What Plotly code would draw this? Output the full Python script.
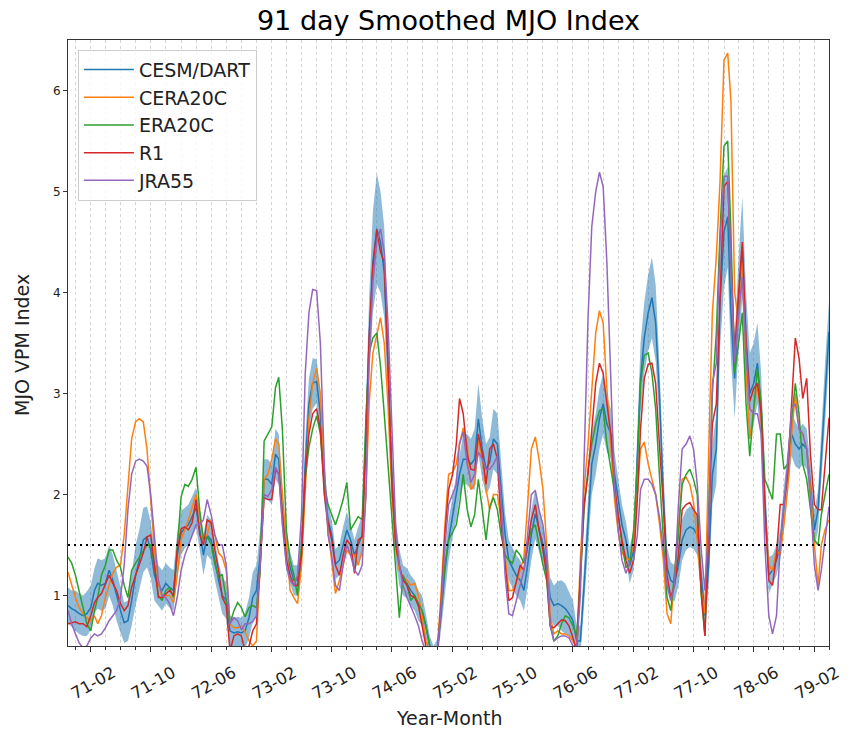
import pandas as pd
import plotly.graph_objects as go

# Half-monthly sample dates (1st and 16th of each month), 1970-11-01 .. 1979-04-01
month_starts = pd.date_range("1970-11-01", "1979-04-01", freq="MS")
dates = []
for i, d in enumerate(month_starts):
    dates.append(d)
    if i < len(month_starts) - 1:
        dates.append(d + pd.Timedelta(days=15))

series_names = ["CESM/DART", "CERA20C", "ERA20C", "R1", "JRA55"]

cesm_dart = [
    0.9, 0.87, 0.85, 0.82, 0.8, 0.82, 0.88, 1.05, 1.12, 1.1, 1.12, 1.25, 1.15, 1.0, 0.85, 0.73, 0.75, 0.95, 1.2, 1.35,
    1.55, 1.58, 1.45, 1.2, 1.1, 1.05, 1.12, 1.08, 1.05, 1.4, 1.62, 1.67, 1.7, 1.78, 1.87,
    1.65, 1.4, 1.6, 1.55, 1.35, 1.15, 1.0, 0.95, 0.65, 0.63, 0.64, 0.63, 0.65, 0.78, 0.98, 1.05, 1.4, 2.15, 2.15, 2.1,
    2.4, 2.35, 1.8, 1.42, 1.28, 1.15, 1.15, 1.45, 2.3, 2.9, 3.1, 3.12, 2.8, 2.1, 1.75, 1.6,
    1.31, 1.35, 1.5, 1.65, 1.55, 1.4, 1.5, 1.6, 2.6, 3.55, 4.3, 4.63, 4.5, 4.2, 3.3, 2.2, 1.55, 1.28, 1.15, 1.12,
    1.05, 1.0, 0.9, 0.85, 0.7, 0.5, 0.4, 0.45, 0.8, 1.25, 1.55, 1.78,
    1.97, 2.2, 2.35, 2.35, 2.3, 2.35, 2.75, 2.45, 2.25, 2.32, 2.55, 2.5, 2.05, 1.6, 1.35, 1.28, 1.2, 1.15, 1.05, 1.3,
    1.6, 1.81, 1.65, 1.5, 1.3, 0.98, 0.9, 0.92, 0.9, 0.87, 0.82, 0.75,
    0.55, 0.55, 1.1, 1.75, 2.3, 2.5, 2.75, 2.9, 2.7, 2.6, 2.2, 1.95, 1.7, 1.55, 1.3, 1.45, 2.3, 3.15, 3.55, 3.8,
    3.95, 3.7, 3.0, 2.0, 1.28, 1.15, 1.12, 1.3, 1.55, 1.65, 1.68, 1.66, 1.6, 1.2,
    0.8, 1.3, 2.2, 2.45, 3.9, 4.6, 4.75, 3.8, 3.15, 3.9, 4.45, 3.55, 3.0, 3.1, 3.3, 2.85, 1.95, 1.2, 1.25, 1.35,
    1.5, 1.88, 2.25, 2.6, 2.5, 2.45, 2.5, 2.45, 2.1, 1.65, 1.85, 2.4, 3.0, 3.61,
]

cesm_spread = [
    0.18, 0.18, 0.2, 0.2, 0.2, 0.22, 0.22, 0.22, 0.25, 0.25, 0.25, 0.25, 0.25, 0.25, 0.22, 0.2, 0.2, 0.25, 0.3, 0.3,
    0.32, 0.3, 0.28, 0.25, 0.2, 0.2, 0.2, 0.2, 0.2, 0.22, 0.22, 0.2, 0.2, 0.2, 0.2,
    0.2, 0.2, 0.2, 0.2, 0.2, 0.18, 0.18, 0.18, 0.15, 0.15, 0.15, 0.15, 0.18, 0.2, 0.25, 0.25, 0.25, 0.2, 0.2, 0.2,
    0.25, 0.25, 0.2, 0.18, 0.15, 0.15, 0.15, 0.2, 0.25, 0.25, 0.25, 0.22, 0.2, 0.18, 0.15, 0.15,
    0.15, 0.15, 0.18, 0.18, 0.15, 0.15, 0.18, 0.2, 0.3, 0.4, 0.5, 0.55, 0.5, 0.45, 0.35, 0.25, 0.2, 0.18, 0.15, 0.15,
    0.15, 0.15, 0.15, 0.15, 0.12, 0.1, 0.1, 0.12, 0.15, 0.2, 0.2, 0.2,
    0.22, 0.22, 0.25, 0.25, 0.25, 0.3, 0.35, 0.3, 0.25, 0.25, 0.3, 0.3, 0.25, 0.22, 0.2, 0.2, 0.2, 0.2, 0.2, 0.22,
    0.25, 0.25, 0.22, 0.2, 0.18, 0.2, 0.2, 0.22, 0.25, 0.25, 0.22, 0.2,
    0.15, 0.15, 0.2, 0.25, 0.3, 0.3, 0.3, 0.3, 0.28, 0.25, 0.22, 0.2, 0.2, 0.18, 0.18, 0.2, 0.3, 0.35, 0.35, 0.38,
    0.4, 0.38, 0.3, 0.25, 0.2, 0.18, 0.18, 0.2, 0.2, 0.2, 0.2, 0.2, 0.2, 0.18,
    0.15, 0.2, 0.3, 0.35, 0.45, 0.55, 0.5, 0.45, 0.4, 0.45, 0.5, 0.45, 0.4, 0.4, 0.4, 0.35, 0.25, 0.18, 0.15, 0.15,
    0.15, 0.2, 0.2, 0.22, 0.22, 0.2, 0.2, 0.2, 0.2, 0.18, 0.2, 0.25, 0.3, 0.3,
]

cera20c = [
    1.23, 1.1, 0.98, 0.88, 0.82, 0.78, 0.75, 0.8, 0.72, 0.8, 0.98, 1.1, 1.22, 1.28, 1.3, 1.6, 2.05, 2.55, 2.72, 2.75,
    2.72, 2.45, 1.95, 1.45, 1.12, 0.98, 1.0, 1.0, 0.93, 1.2, 1.55, 1.65, 1.75, 1.87, 2.0,
    1.78, 1.55, 1.6, 1.75, 1.6, 1.42, 1.38, 1.25, 0.72, 0.68, 0.68, 0.7, 0.64, 0.55, 0.5, 0.55, 1.3, 2.15, 2.2, 2.35,
    2.55, 2.5, 2.0, 1.5, 1.05, 0.98, 0.92, 1.3, 2.1, 2.75, 3.1, 3.25, 3.0, 2.2, 1.65, 1.35,
    1.02, 1.15, 1.3, 1.45, 1.4, 1.4, 1.3, 1.45, 2.0, 2.9, 3.4, 3.6, 3.75, 3.5, 2.9, 2.0, 1.5, 1.25, 1.18, 1.15,
    1.1, 1.12, 1.0, 0.8, 0.55, 0.45, 0.4, 0.45, 1.0, 1.7, 2.2, 2.22,
    2.3, 2.5, 2.66, 2.5, 2.05, 2.1, 2.55, 2.35, 2.05, 1.85, 2.0, 2.0, 1.75, 1.4, 1.05, 1.05, 1.12, 1.25, 1.38, 1.9,
    2.45, 2.57, 2.35, 2.05, 1.5, 0.8, 0.62, 0.65, 0.62, 0.62, 0.6, 0.55,
    0.48, 1.35, 2.05, 2.5, 3.0, 3.6, 3.82, 3.7, 3.05, 2.45, 1.95, 1.62, 1.42, 1.38, 1.35, 1.5, 2.0, 2.45, 2.52, 2.3,
    2.15, 2.0, 1.72, 1.35, 0.82, 0.72, 1.2, 1.7, 2.15, 2.17, 2.1, 1.92, 1.55, 1.05,
    0.82, 2.4, 3.8, 4.35, 5.1, 6.3, 6.37, 5.9, 4.0, 3.7, 4.3, 3.2, 2.55, 2.85, 3.1, 2.75, 1.8, 1.3, 1.25, 1.45,
    1.4, 1.7, 2.05, 2.6, 3.0, 2.65, 2.6, 2.45, 2.05, 1.5, 1.1, 1.5, 1.65, 1.75,
]

era20c = [
    1.38, 1.32, 1.2, 1.05, 0.88, 0.72, 0.65, 0.85, 0.98, 1.2, 1.3, 1.45, 1.45, 1.35, 1.28, 1.1, 0.98, 1.25, 1.32, 1.38,
    1.45, 1.5, 1.5, 1.3, 1.0, 0.95, 1.05, 1.08, 0.98, 1.5, 1.98, 2.1, 2.08, 2.15, 2.27,
    1.84, 1.55, 1.58, 1.51, 1.31, 1.18, 1.21, 0.98, 0.72, 0.85, 0.93, 0.88, 0.79, 0.88, 0.9, 0.88, 1.25, 2.53, 2.6, 2.67,
    3.06, 3.16, 2.63, 1.64, 1.35, 1.21, 1.0, 1.5, 2.17, 2.47, 2.65, 2.78, 2.6, 2.1, 1.9, 1.8,
    1.7, 1.82, 1.95, 2.12, 1.65, 1.72, 1.78, 1.75, 2.75, 3.4, 3.55, 3.6, 3.27, 2.8, 2.3, 1.8, 1.35, 0.78, 1.2, 1.1,
    0.95, 1.0, 0.92, 0.85, 0.7, 0.5, 0.42, 0.45, 0.85, 1.3, 1.55, 1.62,
    1.7, 1.9, 2.2, 1.85, 1.68, 1.8, 2.15, 1.85, 1.55, 1.88, 1.97, 1.85, 1.6, 1.4, 1.35, 1.32, 1.45, 1.4, 1.32, 1.5,
    1.65, 1.7, 1.5, 1.3, 1.15, 0.72, 0.55, 0.6, 0.72, 0.8, 0.78, 0.7,
    0.6, 1.15, 1.85, 2.25, 2.5, 2.7, 2.83, 2.85, 2.5, 2.25, 2.05, 1.8, 1.5, 1.28, 1.3, 1.65, 2.3, 3.1, 3.38, 3.4,
    3.2, 2.85, 2.2, 1.55, 0.98, 0.85, 1.25, 1.6, 2.1, 2.2, 2.25, 2.15, 2.0, 1.0,
    0.6, 1.7, 3.0, 3.6, 4.6, 5.45, 5.5, 4.6, 3.2, 3.5, 3.8, 2.9, 2.38, 2.85, 3.25, 2.9, 2.15, 2.05, 1.95, 2.6,
    2.6, 2.25, 2.3, 2.75, 3.1, 2.8, 2.3, 2.15, 1.85, 1.55, 1.5, 1.8, 2.0, 2.2,
]

r1 = [
    0.72, 0.73, 0.74, 0.72, 0.72, 0.69, 0.8, 0.93, 0.98, 1.02, 1.12, 1.2, 1.12, 1.05, 0.92, 0.85, 0.9, 1.08, 1.2, 1.3,
    1.42, 1.58, 1.6, 1.3, 0.98, 0.98, 1.02, 1.05, 1.0, 1.45, 1.66, 1.68, 1.65, 1.72, 1.95,
    1.6, 1.5, 1.75, 1.72, 1.45, 1.25, 0.98, 0.9, 0.45, 0.6, 0.62, 0.6, 0.45, 0.5, 0.65, 0.72, 1.3, 1.97, 1.95, 1.95,
    2.25, 2.2, 1.8, 1.35, 1.2, 1.1, 1.1, 1.4, 2.2, 2.6, 2.8, 2.85, 2.65, 2.0, 1.72, 1.55,
    1.3, 1.2, 1.4, 1.55, 1.5, 1.22, 1.55, 1.58, 2.5, 3.55, 4.25, 4.62, 4.4, 4.3, 3.3, 2.1, 1.5, 1.3, 1.15, 1.1,
    1.0, 0.98, 0.9, 0.7, 0.5, 0.4, 0.4, 0.4, 0.9, 1.6, 2.05, 2.2,
    2.5, 2.95, 2.8, 2.4, 2.25, 2.24, 2.6, 2.4, 2.1, 2.45, 2.5, 2.35, 1.7, 1.3, 0.95, 0.98, 1.15, 1.3, 1.25, 1.5,
    1.75, 1.9, 1.65, 1.45, 1.2, 0.7, 0.68, 0.72, 0.76, 0.75, 0.7, 0.58,
    0.45, 1.2, 1.9, 2.2, 2.65, 3.1, 3.3, 3.2, 2.9, 2.6, 2.1, 1.78, 1.55, 1.35, 1.22, 1.35, 1.95, 2.65, 3.15, 3.29,
    3.3, 3.1, 2.5, 1.9, 1.2, 0.98, 1.1, 1.4, 1.85, 1.9, 1.92, 1.85, 1.8, 1.05,
    0.6, 1.6, 2.7, 2.9, 3.9, 5.05, 5.1, 4.3, 3.4, 4.0, 4.5, 3.5, 2.92, 3.05, 3.1, 2.8, 1.9, 1.15, 1.1, 1.4,
    1.9, 1.9, 2.2, 2.9, 3.55, 3.35, 2.95, 3.15, 2.4, 1.9, 1.85, 1.85, 2.3, 2.76,
]

jra55 = [
    0.85, 0.72, 0.62, 0.53, 0.48, 0.5, 0.58, 0.62, 0.6, 0.62, 0.68, 0.75, 0.8, 0.85, 0.98, 1.3, 1.85, 2.2, 2.33, 2.35,
    2.33, 2.28, 2.0, 1.57, 1.15, 1.0, 0.98, 0.92, 0.8, 0.98, 1.25, 1.4, 1.5, 1.6, 1.7,
    1.7, 1.75, 1.95, 1.8, 1.6, 1.5, 1.5, 1.3, 0.72, 0.78, 0.75, 0.66, 0.72, 0.72, 0.74, 0.8, 1.3, 2.0, 1.98, 2.05,
    2.27, 2.2, 1.7, 1.3, 1.15, 1.1, 1.2, 1.8, 3.2, 3.8, 4.03, 4.02, 3.5, 2.3, 1.6, 1.4,
    1.1, 1.05, 1.3, 1.5, 1.4, 1.25, 1.2, 1.3, 2.0, 3.3, 4.1, 4.5, 4.63, 4.4, 3.7, 2.6, 1.7, 1.3, 1.1, 0.98,
    0.9, 0.8, 0.7, 0.55, 0.45, 0.4, 0.4, 0.42, 0.85, 1.5, 1.9, 2.0,
    2.1, 2.5, 2.62, 2.3, 2.12, 2.2, 2.42, 2.35, 2.25, 2.25, 2.3, 2.38, 1.95, 1.2, 0.82, 0.8, 0.95, 1.1, 1.25, 1.6,
    2.0, 2.04, 1.85, 1.7, 1.4, 0.7, 0.55, 0.58, 0.6, 0.6, 0.58, 0.5,
    0.48, 1.0, 2.3, 3.75, 4.65, 5.0, 5.19, 5.05, 4.3, 3.2, 2.05, 1.65, 1.35, 1.22, 1.32, 1.35, 1.6, 2.05, 2.15, 2.15,
    2.1, 2.0, 1.78, 1.45, 1.1, 0.95, 1.1, 1.9, 2.45, 2.5, 2.58, 2.45, 2.1, 1.45,
    1.05, 1.7, 3.1, 3.3, 4.5, 5.15, 5.15, 4.3, 3.3, 3.8, 4.15, 3.4, 2.85, 2.8, 2.8, 2.6, 1.5, 0.8, 0.62, 0.8,
    1.5, 1.9, 2.3, 2.85, 2.9, 2.65, 2.6, 2.45, 1.95, 1.3, 1.05, 1.25, 1.55, 1.88,
]

threshold = 1.5
y_ticks = [1, 2, 3, 4, 5, 6]
grid_dates = pd.date_range("1970-12-01", "1979-04-01", freq="2MS")

colors = ["#1f77b4", "#ff7f0e", "#2ca02c", "#d62728", "#9467bd"]
FONT = "DejaVu Sans"

upper = [m + s for m, s in zip(cesm_dart, cesm_spread)]
lower = [m - s for m, s in zip(cesm_dart, cesm_spread)]

fig = go.Figure()

# CESM/DART ensemble spread band
fig.add_trace(go.Scatter(x=dates, y=upper, mode="lines", line=dict(width=0, color=colors[0]),
                         showlegend=False, hoverinfo="skip"))
fig.add_trace(go.Scatter(x=dates, y=lower, mode="lines", line=dict(width=0, color=colors[0]),
                         fill="tonexty", fillcolor="rgba(31,119,180,0.5)",
                         showlegend=False, hoverinfo="skip"))

for name, vals, col in zip(series_names, [cesm_dart, cera20c, era20c, r1, jra55], colors):
    fig.add_trace(go.Scatter(x=dates, y=vals, mode="lines", name=name,
                             line=dict(color=col, width=1.5)))

fig.add_shape(type="line", xref="paper", x0=0, x1=1, yref="y", y0=threshold, y1=threshold,
              line=dict(color="black", width=2, dash="2px,4px"), layer="above")

fig.update_layout(
    width=849, height=729,
    margin=dict(l=68, r=20, t=40, b=83, autoexpand=False),
    paper_bgcolor="white", plot_bgcolor="white",
    font=dict(family=FONT, color="black"),
    title=dict(text="91 day Smoothed MJO Index", x=0.5, xref="paper", xanchor="center",
               y=1 - 21 / 729, yref="container", yanchor="middle",
               font=dict(family=FONT, size=27, color="black")),
    showlegend=True,
    legend=dict(x=0.013, y=0.984, xanchor="left", yanchor="top", traceorder="normal",
                itemwidth=50,
                bgcolor="rgba(255,255,255,0.8)", bordercolor="#cccccc", borderwidth=1,
                font=dict(family=FONT, size=19, color="#222222")),
    xaxis=dict(
        type="date", range=["1970-11-01", "1979-04-01"],
        tick0="1971-02-01", dtick="M8", tickformat="%y-%m", tickangle=-30,
        tickfont=dict(family=FONT, size=16.5, color="#222222"),
        ticklabelshift=22, ticklabelstandoff=5,
        ticks="outside", ticklen=5, tickcolor="#333333",
        showline=True, linecolor="#333333", linewidth=1, mirror=True,
        showgrid=True, gridcolor="#d4d4d4", gridwidth=1, griddash="dot",
        minor=dict(tickmode="array", tickvals=list(grid_dates), ticks="outside", ticklen=3,
                   tickcolor="#333333",
                   showgrid=True, gridcolor="#d4d4d4", gridwidth=1, griddash="dot"),
        zeroline=False, automargin=False,
    ),
    yaxis=dict(
        range=[0.5, 6.5], tickvals=y_ticks, ticktext=[str(v) for v in y_ticks],
        tickfont=dict(family=FONT, size=12, color="#222222"),
        ticks="outside", ticklen=4, tickcolor="#333333",
        showline=True, linecolor="#333333", linewidth=1, mirror=True,
        showgrid=False, zeroline=False, automargin=False,
    ),
    annotations=[
        dict(text="Year-Month", xref="paper", yref="paper", x=0.5, y=(646 - 718) / 606,
             xanchor="center", yanchor="middle", showarrow=False,
             font=dict(family=FONT, size=19, color="#222222")),
        dict(text="MJO VPM Index", xref="paper", yref="paper", x=(22 - 68) / 761, y=(646 - 345) / 606,
             xanchor="center", yanchor="middle", showarrow=False, textangle=-90,
             font=dict(family=FONT, size=19, color="#222222")),
    ],
)

fig.write_html("out.html")
